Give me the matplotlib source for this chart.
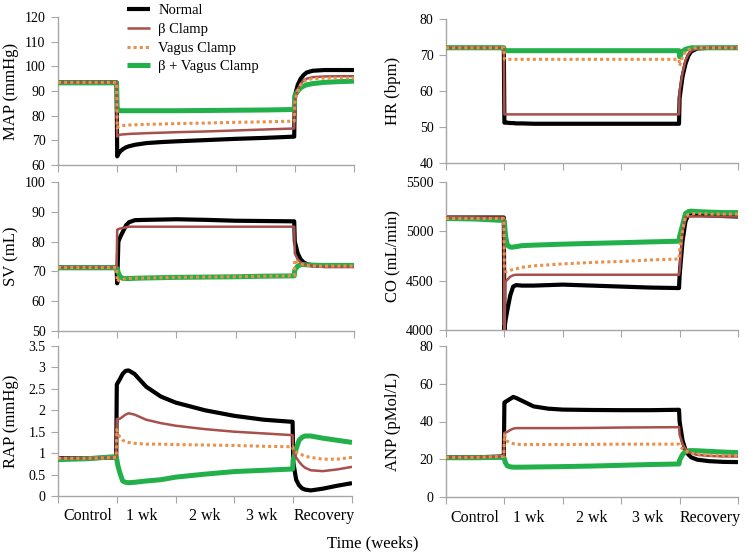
import matplotlib
matplotlib.use("Agg")
import matplotlib.pyplot as plt

plt.rcParams['font.family'] = ['Liberation Serif', 'DejaVu Serif']

# ---------------- data ----------------
time_weeks = [0, 0.5, 0.99, 1.0, 1.02, 1.05, 1.1, 1.15, 1.2, 1.3, 1.5, 1.75, 2.0, 2.5,
              3.0, 3.5, 3.99, 4.0, 4.05, 4.1, 4.15, 4.2, 4.3, 4.5, 4.75, 5.0]
period_labels = ["Control", "1 wk", "2 wk", "3 wk", "Recovery"]
period_label_pos = [0.5, 1.42, 2.49, 3.46, 4.52]
series_names = ["Normal", "\u03b2 Clamp", "Vagus Clamp", "\u03b2 + Vagus Clamp"]

map_normal = [93.5, 93.5, 93.5, 63.5, 64.5, 65.5, 66.5, 67.2, 67.6, 68.2, 68.9, 69.3, 69.6, 70.1,
              70.6, 71.0, 71.5, 88, 92.5, 95, 96.5, 97.5, 98.2, 98.5, 98.5, 98.5]
map_beta = [93.5, 93.5, 93.5, 71.5, 72.0, 72.3, 72.4, 72.5, 72.6, 72.7, 72.9, 73.1, 73.3, 73.6,
            74.0, 74.4, 74.8, 86, 90.5, 93, 94.3, 95.0, 95.6, 95.9, 96, 96]
map_vagus = [93.5, 93.5, 93.5, 75, 75.5, 75.8, 76.0, 76.1, 76.2, 76.3, 76.5, 76.6, 76.8, 77.0,
             77.3, 77.5, 77.8, 86, 90, 92.5, 93.8, 94.5, 95, 95.2, 95.3, 95.3]
map_both = [93.3, 93.3, 93.3, 82.5, 82.3, 82.0, 82.0, 82.0, 82.0, 82.0, 82.0, 82.0, 82.0, 82.1,
            82.2, 82.3, 82.5, 88, 90, 91.3, 92.0, 92.5, 93.0, 93.5, 93.8, 94.0]

hr_normal = [72, 72, 72, 51.2, 51.2, 51.2, 51.1, 51.1, 51.0, 51.0, 50.9, 50.9, 50.9, 50.9,
             50.9, 50.9, 50.9, 58, 64, 67.5, 69.8, 71, 71.8, 72, 72, 72]
hr_beta = [72, 72, 72, 53.5, 53.5, 53.5, 53.5, 53.5, 53.5, 53.5, 53.5, 53.5, 53.5, 53.5,
           53.5, 53.5, 53.5, 60, 65, 68.5, 70.2, 71.2, 71.9, 72, 72, 72]
hr_vagus = [72, 72, 72, 68.8, 68.8, 68.8, 68.8, 68.8, 68.8, 68.8, 68.8, 68.8, 68.8, 68.8,
            68.8, 68.8, 68.8, 67, 69.5, 71, 71.5, 71.8, 72, 72, 72, 72]
hr_both = [72, 72, 72, 71.2, 71.2, 71.2, 71.2, 71.2, 71.2, 71.2, 71.2, 71.2, 71.2, 71.2,
           71.2, 71.2, 71.2, 69.5, 71, 71.6, 71.8, 72, 72, 72, 72, 72]

sv_normal = [71.3, 71.3, 71.3, 66, 80, 81.5, 83.5, 85.5, 86.5, 87.2, 87.3, 87.4, 87.5, 87.3,
             87.0, 86.9, 86.8, 80, 76, 74, 73, 72.5, 72, 71.8, 71.8, 71.8]
sv_beta = [71.3, 71.3, 71.3, 84, 84.2, 84.4, 84.6, 84.8, 85, 85, 85, 85, 85, 85,
           85, 85, 85, 76, 74, 73, 72.5, 72.2, 71.8, 71.5, 71.5, 71.5]
sv_vagus = [71.3, 71.3, 71.3, 66.5, 67, 67.3, 67.4, 67.5, 67.6, 67.7, 67.8, 67.9, 68, 68.1,
            68.2, 68.4, 68.5, 74, 73, 72.5, 72.2, 72.0, 71.8, 71.8, 71.8, 71.8]
sv_both = [71.2, 71.2, 71.2, 70.8, 69.5, 68.2, 67.6, 67.6, 67.6, 67.7, 67.8, 67.9, 68, 68.1,
           68.2, 68.4, 68.5, 70.5, 71.8, 72.3, 72.3, 72.2, 72.1, 72, 72, 72]

co_normal = [5140, 5140, 5140, 4000, 4100, 4200, 4350, 4440, 4455, 4450, 4450, 4455, 4460, 4450,
             4440, 4430, 4425, 4550, 4900, 5100, 5170, 5185, 5170, 5160, 5155, 5150]
co_beta = [5140, 5140, 5140, 4000, 4490, 4510, 4540, 4555, 4560, 4560, 4560, 4560, 4560, 4560,
           4560, 4560, 4560, 4600, 5000, 5140, 5150, 5150, 5150, 5150, 5150, 5150]
co_vagus = [5130, 5130, 5130, 4620, 4590, 4595, 4605, 4615, 4620, 4635, 4650, 4660, 4670, 4685,
            4695, 4710, 4720, 4800, 5000, 5150, 5170, 5180, 5180, 5175, 5175, 5175]
co_both = [5130, 5125, 5110, 5100, 4950, 4860, 4840, 4840, 4845, 4855, 4860, 4865, 4870, 4878,
           4885, 4893, 4900, 4950, 5060, 5180, 5200, 5205, 5200, 5195, 5190, 5190]

rap_normal = [0.88, 0.88, 0.9, 2.6, 2.65, 2.72, 2.85, 2.92, 2.93, 2.85, 2.55, 2.32, 2.18, 2.0,
              1.87, 1.78, 1.73, 0.8, 0.38, 0.25, 0.18, 0.15, 0.13, 0.17, 0.24, 0.3]
rap_beta = [0.88, 0.88, 0.9, 1.8, 1.8, 1.8, 1.85, 1.9, 1.93, 1.9, 1.78, 1.7, 1.64, 1.56,
            1.5, 1.46, 1.42, 1.05, 0.9, 0.8, 0.72, 0.66, 0.6, 0.58, 0.62, 0.68]
rap_vagus = [0.88, 0.88, 0.9, 1.55, 1.45, 1.38, 1.3, 1.27, 1.25, 1.23, 1.21, 1.21, 1.2, 1.19,
             1.18, 1.16, 1.15, 1.08, 1.02, 1.0, 0.96, 0.93, 0.9, 0.86, 0.86, 0.9]
rap_both = [0.85, 0.87, 0.92, 0.85, 0.7, 0.55, 0.35, 0.32, 0.31, 0.32, 0.35, 0.38, 0.44, 0.51,
            0.57, 0.6, 0.63, 0.85, 1.1, 1.3, 1.37, 1.4, 1.4, 1.35, 1.3, 1.25]

anp_normal = [21, 21, 21.5, 50, 50.5, 51, 52, 53, 52.5, 51, 48, 46.8, 46.3, 46.1,
              46, 46, 46.2, 40, 30, 25, 22.5, 21, 19.8, 19, 18.6, 18.5]
anp_beta = [21, 21, 21.5, 34, 34.2, 34.5, 35.5, 36.2, 36.5, 36.5, 36.5, 36.5, 36.5, 36.6,
            36.8, 36.9, 37, 33, 28, 25.5, 24, 23.2, 22.3, 21.8, 21.5, 21.5]
anp_vagus = [21, 21, 21.5, 33, 31, 29.5, 28.8, 28.3, 28, 27.8, 27.8, 27.8, 27.8, 27.9,
             28, 28, 28, 27, 25.5, 24.5, 23.8, 23.2, 22.8, 22.2, 22, 22]
anp_both = [20.8, 20.8, 21, 20, 18, 16.5, 16, 15.8, 15.8, 15.8, 15.9, 16, 16.1, 16.4,
            16.8, 17.2, 17.5, 19.5, 22.5, 24, 24.5, 24.6, 24.5, 24.2, 23.8, 23.5]

# ---------------- styling ----------------
W, H = 746, 558
fig = plt.figure(figsize=(W / 100, H / 100), dpi=100)

styles = {
    0: dict(color="black", lw=3.0, ls="-", z=2),
    1: dict(color="#A8504B", lw=1.8, ls="-", z=4),
    2: dict(color="#E9904A", lw=2.2, ls=(0, (1, 1)), z=5),
    3: dict(color="#22B04B", lw=3.6, ls="-", z=3),
}

panels = [
    ("MAP (mmHg)", (58, 17, 354, 165), (60, 120), list(range(60, 121, 10)),
     [map_normal, map_beta, map_vagus, map_both], False, "left"),
    ("HR (bpm)", (446, 19, 738, 163), (40, 80), list(range(40, 81, 10)),
     [hr_normal, hr_beta, hr_vagus, hr_both], False, "right"),
    ("SV (mL)", (58, 182, 354, 331), (50, 100), list(range(50, 101, 10)),
     [sv_normal, sv_beta, sv_vagus, sv_both], False, "left"),
    ("CO (mL/min)", (446, 182, 738, 330), (4000, 5500), list(range(4000, 5501, 500)),
     [co_normal, co_beta, co_vagus, co_both], False, "right"),
    ("RAP (mmHg)", (58, 346, 352, 496), (0, 3.5), [0, 0.5, 1, 1.5, 2, 2.5, 3, 3.5],
     [rap_normal, rap_beta, rap_vagus, rap_both], True, "left"),
    ("ANP (pMol/L)", (446, 346, 738, 497), (0, 80), list(range(0, 81, 20)),
     [anp_normal, anp_beta, anp_vagus, anp_both], True, "right"),
]

spine_color = "#A6A6A6"
handles = {}
for label, (x0, y0, x1, y1), ylim, yticks, series, show_x, side in panels:
    ax = fig.add_axes([x0 / W, 1 - y1 / H, (x1 - x0) / W, (y1 - y0) / H])
    for i in [0, 3, 1, 2]:
        st = styles[i]
        ln, = ax.plot(time_weeks, series[i], color=st["color"], lw=st["lw"],
                      ls=st["ls"], zorder=st["z"], solid_capstyle="butt",
                      dash_capstyle="butt", clip_on=True)
        handles[i] = ln
    ax.set_xlim(0, 5)
    ax.set_ylim(*ylim)
    ax.set_yticks(yticks)
    ax.set_yticklabels([("%g" % v) for v in yticks])
    ax.set_xticks([0, 1, 2, 3, 4, 5])
    ax.set_xticklabels([])
    if show_x:
        ax.set_xticks(period_label_pos, period_labels, minor=True)
    ax.tick_params(axis="x", which="minor", length=0, pad=9, labelsize=11.5)
    ax.tick_params(axis="both", which="major", direction="out", length=5,
                   color=spine_color, pad=3)
    ax.tick_params(axis="y", which="major", labelsize=10, pad=4)
    for s in ["top", "right"]:
        ax.spines[s].set_visible(False)
    for s in ["left", "bottom"]:
        ax.spines[s].set_color(spine_color)
        ax.spines[s].set_linewidth(1.0)
    ax.set_ylabel(label, fontsize=12)
    width = x1 - x0
    if side == "left":
        ax.yaxis.set_label_coords((19 - x0) / width, 0.5)
    else:
        ax.yaxis.set_label_coords((401 - x0) / width, 0.5)

fig.legend([handles[0], handles[1], handles[2], handles[3]], series_names,
           loc="upper left", bbox_to_anchor=(127 / W, 1 - 4 / H), frameon=False,
           fontsize=10.5, handlelength=1.6, handletextpad=0.55, labelspacing=0.38,
           borderaxespad=0, borderpad=0)

fig.text(373 / W, 1 - 543 / H, "Time (weeks)", ha="center", va="center", fontsize=12)

fig.savefig("out.png", dpi=100)
